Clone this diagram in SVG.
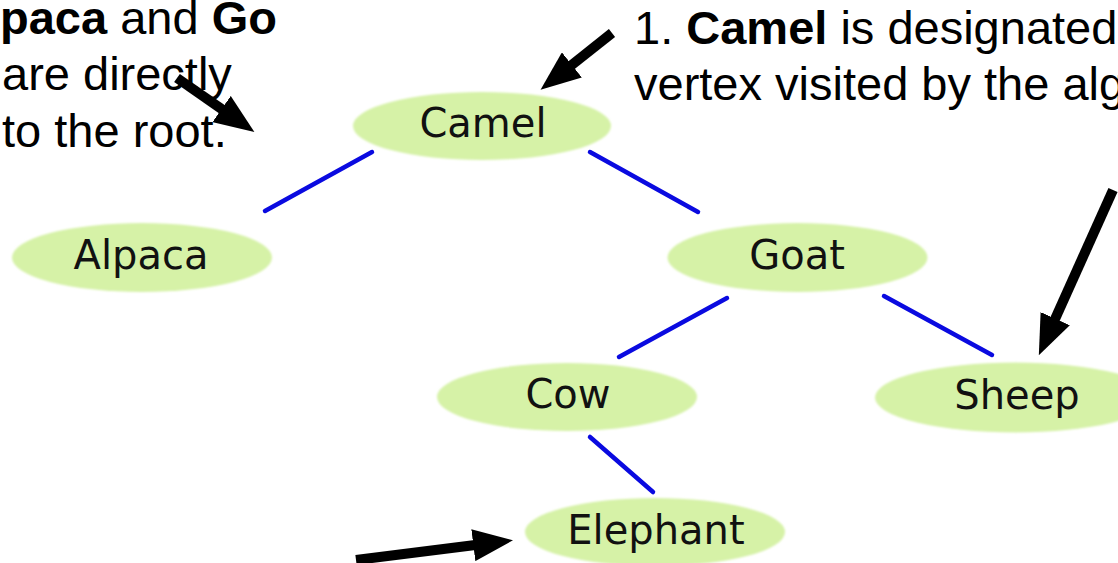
<svg xmlns="http://www.w3.org/2000/svg" width="1118" height="563" viewBox="0 0 1118 563">
  <style>
    .node ellipse { fill: #d6f2a7; filter: url(#soft); }
    .node text { font-family: "DejaVu Sans", Verdana, sans-serif; font-size: 40px; fill: #111; text-anchor: middle; }
    .edge { stroke: #0a0ae0; stroke-width: 4.5; stroke-linecap: round; fill: none; }
    .arrow { stroke: #000; stroke-width: 10; fill: none; marker-end: url(#head); }
    .note { font-family: "Liberation Sans", Arial, sans-serif; font-size: 47px; fill: #000; }
    .note .b { font-weight: bold; }
  </style>
  <defs>
    <filter id="soft" x="-10%" y="-20%" width="120%" height="140%">
      <feGaussianBlur stdDeviation="1.2"/>
    </filter>
    <marker id="head" viewBox="0 0 4 3.2" refX="0.2" refY="1.6" markerWidth="4" markerHeight="3.2" orient="auto" markerUnits="strokeWidth">
      <path d="M0,0 L4,1.6 L0,3.2 z" fill="#000"/>
    </marker>
  </defs>
  <rect width="1118" height="563" fill="#fff"/>

  <g id="connectors">
    <line class="edge" x1="372" y1="152" x2="265" y2="211"/>
    <line class="edge" x1="590" y1="152" x2="698" y2="212"/>
    <line class="edge" x1="727" y1="298" x2="619" y2="357"/>
    <line class="edge" x1="884" y1="296" x2="992" y2="355"/>
    <line class="edge" x1="590" y1="437" x2="653" y2="492"/>
  </g>

  <g id="camel" class="node">
    <ellipse cx="482" cy="126" rx="129" ry="34"/>
    <text x="483" y="137">Camel</text>
  </g>
  <g id="alpaca" class="node">
    <ellipse cx="142" cy="257.5" rx="130" ry="34.5"/>
    <text x="141" y="269">Alpaca</text>
  </g>
  <g id="goat" class="node">
    <ellipse cx="797.5" cy="257.5" rx="130" ry="34.5"/>
    <text x="797" y="269">Goat</text>
  </g>
  <g id="cow" class="node">
    <ellipse cx="567" cy="397" rx="130" ry="34"/>
    <text x="568" y="408">Cow</text>
  </g>
  <g id="sheep" class="node">
    <ellipse cx="1015" cy="397.5" rx="140" ry="35"/>
    <text x="1017" y="409">Sheep</text>
  </g>
  <g id="elephant" class="node">
    <ellipse cx="655" cy="532" rx="130" ry="34"/>
    <text x="656" y="544">Elephant</text>
  </g>

  <g id="annotation-1">
    <text class="note" x="634" y="44">1. <tspan class="b">Camel</tspan> is designated</text>
    <text class="note" x="634" y="100">vertex visited by the alg</text>
  </g>
  <g id="annotation-2">
    <text class="note" x="0" y="34"><tspan class="b">paca</tspan> and <tspan class="b">Go</tspan></text>
    <text class="note" x="2" y="90">are directly</text>
    <text class="note" x="2" y="147">to the root.</text>
  </g>

  <g id="arrows">
    <line class="arrow" x1="612" y1="33" x2="570.3" y2="66.1"/>
    <line class="arrow" x1="177" y1="78" x2="223.2" y2="110.2"/>
    <line class="arrow" x1="1113" y1="190" x2="1054.4" y2="320.5"/>
    <line class="arrow" x1="356" y1="560" x2="475.3" y2="545"/>
  </g>
</svg>
